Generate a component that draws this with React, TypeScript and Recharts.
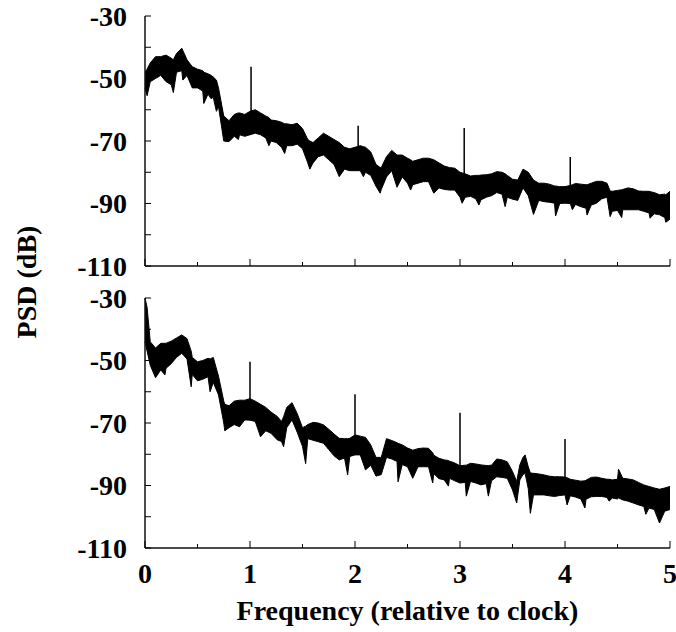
import React from 'react';
import { ComposedChart, Area, Line, XAxis, YAxis, Label } from 'recharts';

const FONT = '"Liberation Serif", "Times New Roman", serif';

// ---------- Top panel: noisy PSD band (upper / lower envelope) ----------
const topFreq = [
  0, 0.02, 0.05, 0.1, 0.15, 0.2, 0.25, 0.27, 0.3, 0.35,
  0.36, 0.4, 0.45, 0.5, 0.55, 0.56, 0.6, 0.63, 0.65, 0.68,
  0.7, 0.75, 0.8, 0.85, 0.89, 0.9, 0.95, 1.0, 1.05, 1.1,
  1.15, 1.18, 1.2, 1.25, 1.3, 1.33, 1.35, 1.4, 1.45, 1.5,
  1.55, 1.57, 1.6, 1.65, 1.7, 1.75, 1.8, 1.85, 1.9, 1.95,
  2.0, 2.05, 2.08, 2.1, 2.15, 2.2, 2.24, 2.25, 2.3, 2.35,
  2.4, 2.45, 2.5, 2.53, 2.55, 2.6, 2.65, 2.7, 2.75, 2.8,
  2.85, 2.9, 2.95, 3.0, 3.02, 3.05, 3.1, 3.15, 3.18, 3.2,
  3.25, 3.3, 3.35, 3.4, 3.43, 3.45, 3.5, 3.55, 3.6, 3.65,
  3.7, 3.75, 3.8, 3.85, 3.9, 3.91, 3.95, 4.0, 4.05, 4.07,
  4.1, 4.15, 4.2, 4.21, 4.25, 4.3, 4.35, 4.4, 4.43, 4.45,
  4.5, 4.54, 4.55, 4.6, 4.65, 4.7, 4.75, 4.8, 4.81, 4.85,
  4.9, 4.95, 4.96, 5.0,
];
const topHigh = [
  -48, -47, -45, -43, -43, -42.5, -43.5, -44, -42, -40.3,
  -41, -44, -46.2, -47, -47.5, -48, -48.5, -49, -49.5, -50.5,
  -53, -62, -63.5, -61.5, -61, -61, -61.5, -60.5, -60, -61,
  -62, -62.5, -63.3, -63.5, -64, -64.5, -64.5, -64.8, -64.3, -66,
  -69.5, -70, -70.5, -69, -67.5, -68.5, -69.5, -70.5, -72, -72.5,
  -72, -71.5, -71.8, -72, -73.5, -77.5, -78.5, -78.5, -75, -73,
  -74.5, -74.5, -75.5, -76, -76.5, -76, -75.5, -75.5, -76, -77,
  -78, -78.5, -78.7, -80, -80.2, -80.5, -81.2, -81, -81, -80.9,
  -80.8, -80.5, -79.8, -80, -80.5, -81, -82.2, -82.5, -79, -80,
  -82.5, -83.5, -83.5, -83.8, -84.4, -84.4, -84.6, -84.6, -84.2, -84,
  -83.6, -83.8, -84, -84, -83.5, -82.9, -82.9, -83.5, -86, -86.1,
  -85.8, -85.6, -85.5, -85, -85.3, -86, -86.1, -86.1, -86.2, -86.5,
  -87.2, -87, -87.2, -86.1,
];
const topLow = [
  -53, -55.5, -51, -50, -49, -51, -52, -54.5, -48, -47.5,
  -50.5, -49, -53, -53, -54, -58, -55, -56.5, -56, -60.5,
  -59, -70, -70.2, -68.5, -69.5, -68, -68.5, -68, -67.5, -68,
  -69, -71.5, -70, -70.5, -72, -74, -71.5, -71.5, -71, -72.5,
  -77, -79, -77, -75, -74.5, -76, -77.5, -81.4, -79, -79.5,
  -79.5, -79.5, -81.4, -80, -81, -84.5, -86.7, -85.5, -81.5, -79.5,
  -84.8, -81.5, -83.5, -85.7, -84, -83.5, -83, -83, -86.7, -85,
  -85.5, -85.7, -85.7, -88, -89.9, -88, -87.7, -88.5, -90.5, -88.8,
  -88, -87.5, -86.5, -87, -91, -88, -88.6, -89, -85, -87.5,
  -93.5, -89, -89.4, -89.6, -89.9, -94, -90, -89.9, -90, -92,
  -90.3, -91, -91.5, -93.7, -90.5, -89.9, -88.5, -88, -94.2, -92.5,
  -92.2, -94.5, -92, -92, -92, -92, -92.5, -93, -94.7, -93.3,
  -93.6, -94.5, -96, -95,
];
const topSpikeFreq = [1.01, 2.03, 3.04, 4.05];
const topSpikeTop = [-46.2, -65.1, -65.8, -75.1];
const topSpikeBase = [-62, -73, -82, -86];

// ---------- Bottom panel ----------
const botFreq = [
  0, 0.02, 0.05, 0.1, 0.15, 0.19, 0.2, 0.25, 0.3, 0.35,
  0.4, 0.44, 0.45, 0.5, 0.55, 0.6, 0.62, 0.65, 0.7, 0.75,
  0.76, 0.8, 0.85, 0.9, 0.95, 1.0, 1.05, 1.1, 1.15, 1.2,
  1.26, 1.3, 1.32, 1.35, 1.4, 1.45, 1.5, 1.53, 1.55, 1.6,
  1.65, 1.7, 1.75, 1.8, 1.85, 1.9, 1.93, 1.95, 2.0, 2.05,
  2.1, 2.15, 2.2, 2.25, 2.3, 2.35, 2.4, 2.41, 2.45, 2.5,
  2.55, 2.6, 2.65, 2.7, 2.74, 2.75, 2.8, 2.85, 2.89, 2.9,
  2.95, 3.0, 3.05, 3.06, 3.1, 3.15, 3.2, 3.25, 3.27, 3.3,
  3.35, 3.4, 3.45, 3.5, 3.54, 3.57, 3.6, 3.62, 3.65, 3.67,
  3.7, 3.75, 3.8, 3.85, 3.9, 3.95, 4.0, 4.02, 4.05, 4.1,
  4.15, 4.19, 4.2, 4.25, 4.3, 4.35, 4.4, 4.42, 4.45, 4.5,
  4.51, 4.55, 4.6, 4.65, 4.7, 4.75, 4.77, 4.8, 4.85, 4.9,
  4.95, 5.0,
];
const botHigh = [
  -30, -33, -44, -46, -44.5, -44.5, -44.5, -43.8, -42.8, -41.8,
  -43, -47, -49, -50.4, -50, -49.3, -49.5, -49, -55, -63,
  -64, -64.5, -63, -62.7, -62.7, -62.2, -63, -64, -65, -66.5,
  -67.9, -69.5, -68, -65, -63.5, -67, -71.5, -71, -70.5, -69.8,
  -70, -70.6, -72, -73.5, -74.9, -75, -75, -74.9, -73.8, -74.2,
  -74.6, -77, -81, -81, -75, -75.6, -76.3, -76.5, -77, -78,
  -78.7, -78.2, -78, -78.1, -79.5, -80.3, -81.3, -81.8, -82, -82.2,
  -82.8, -83.7, -83.5, -83.5, -82.9, -83.1, -83.4, -83.6, -83.6, -83.5,
  -81.5, -81.8, -82.4, -85.5, -88.7, -83.4, -81, -80.2, -84, -86,
  -86.1, -86.3, -86.6, -87, -87.2, -87.2, -87.3, -87.5, -88, -88.3,
  -88.6, -88.5, -88.3, -87.4, -87.3, -87.7, -88, -88, -88.2, -88,
  -84.8, -87.7, -87.9, -88.2, -89, -89.8, -90, -90.3, -90.8, -91.2,
  -90.8, -90.3,
];
const botLow = [
  -44, -47, -51.5, -55.5, -53, -54.6, -52.5, -51, -49, -47.7,
  -49.5, -58.4, -54.5, -56.5, -56, -55.2, -60, -57, -61, -70,
  -72.5, -71.5, -70.5, -71.2, -69, -69.1, -69.5, -74.4, -72.5, -73.3,
  -75.4, -75.9, -77.6, -71.5, -69, -73, -77.5, -83, -75, -75.5,
  -76, -76.5, -78.5, -80.5, -81.8, -81.2, -86.6, -80.7, -80.2, -80.2,
  -85, -83.5, -87, -86.5, -81, -81.5, -82.3, -88.8, -83.3, -84,
  -87.7, -84, -84, -84, -89.2, -86.2, -87.8, -88.2, -90.2, -87.7,
  -88.5, -89.2, -89, -93.4, -88.7, -89.2, -89.8, -89.4, -93.4, -88.5,
  -87.2, -87.4, -87.7, -91.4, -95.6, -88.2, -86.5, -86.1, -91, -98.9,
  -93, -93, -93, -93.3, -93.5, -93.2, -93, -96.2, -93.3, -93.7,
  -94.3, -97.2, -94.4, -93.6, -93.5, -93.5, -93.8, -95, -94, -94.3,
  -94, -94.6, -95, -95.6, -96.2, -96.7, -99.2, -97.2, -97.7, -102,
  -98.2, -97.7,
];
const botSpikeFreq = [1.0, 2.0, 3.0, 4.0];
const botSpikeTop = [-50.4, -60.8, -66.7, -75.1];
const botSpikeBase = [-64, -76, -85, -89];

// ---------- Axes ----------
const xTicks = [0, 0.5, 1, 1.5, 2, 2.5, 3, 3.5, 4, 4.5, 5];
const xLabelTicks = [0, 1, 2, 3, 4, 5];
const yTicks = [-110, -100, -90, -80, -70, -60, -50, -40, -30];
const yLabelTicks = [-110, -90, -70, -50, -30];
const xTitle = 'Frequency (relative to clock)';
const yTitle = 'PSD (dB)';

const band = (f: number[], hi: number[], lo: number[]) =>
  f.map((v, i) => ({ f: v, range: [lo[i], hi[i]] }));
const spikes = (f: number[], top: number[], base: number[]) => {
  const out: any[] = [];
  f.forEach((v, i) => {
    out.push({ f: v, v: base[i] });
    out.push({ f: v, v: top[i] });
    out.push({ f: v, v: null });
  });
  return out;
};

const txt = { fontFamily: FONT, fontWeight: 700, fontSize: 28, fill: '#000' } as const;

const BottomTick = (showLabels: boolean) => (props: any) => {
  const { x, y, payload } = props;
  const v = payload.value;
  const major = xLabelTicks.includes(v);
  const len = major ? 7 : 4;
  return (
    <g>
      <line x1={x} x2={x} y1={y} y2={y - len} stroke="#000" strokeWidth={1} />
      {showLabels && major && (
        <text x={x} y={y + 35} textAnchor="middle" {...txt}>{v}</text>
      )}
    </g>
  );
};
const TopTick = (props: any) => {
  const { x, y, payload } = props;
  const major = xLabelTicks.includes(payload.value);
  const len = major ? 7 : 4;
  return <line x1={x} x2={x} y1={y} y2={y + len} stroke="#000" strokeWidth={1} />;
};
const LeftTick = (props: any) => {
  const { x, y, payload } = props;
  const v = payload.value;
  return (
    <g>
      <line x1={x} x2={x + 6} y1={y} y2={y} stroke="#000" strokeWidth={1} />
      {yLabelTicks.includes(v) && (
        <text x={x - 18} y={y + 9.5} textAnchor="end" {...txt}>{v}</text>
      )}
    </g>
  );
};
const RightTick = (props: any) => {
  const { x, y } = props;
  return <line x1={x} x2={x - 6} y1={y} y2={y} stroke="#000" strokeWidth={1} />;
};

const axisLine = { stroke: '#111', strokeWidth: 1.5 };

function Panel({ data, spikeData, height, bottomH, showX }: any) {
  return (
    <ComposedChart
      width={676}
      height={height}
      data={data}
      margin={{ top: 16, right: 6, bottom: 0, left: 0 }}
    >
      <XAxis
        dataKey="f"
        type="number"
        domain={[0, 5]}
        ticks={xTicks}
        interval={0}
        height={bottomH}
        tickSize={0}
        tickMargin={0}
        tickLine={false}
        axisLine={axisLine}
        tick={BottomTick(showX)}
      >
        {showX && (
          <Label
            content={(p: any) => {
              const vb = p.viewBox;
              return (
                <text x={vb.x + vb.width / 2} y={vb.y + 72} textAnchor="middle" {...txt}>
                  {xTitle}
                </text>
              );
            }}
          />
        )}
      </XAxis>
      <XAxis
        xAxisId="top"
        orientation="top"
        dataKey="f"
        type="number"
        domain={[0, 5]}
        ticks={xTicks}
        interval={0}
        height={0}
        tickSize={0}
        tickMargin={0}
        tickLine={false}
        axisLine={axisLine}
        tick={TopTick}
      />
      <YAxis
        type="number"
        domain={[-110, -30]}
        allowDataOverflow
        ticks={yTicks}
        interval={0}
        width={145}
        tickSize={0}
        tickMargin={0}
        tickLine={false}
        axisLine={axisLine}
        tick={LeftTick}
      />
      <YAxis
        yAxisId="right"
        orientation="right"
        type="number"
        domain={[-110, -30]}
        ticks={yTicks}
        interval={0}
        width={0}
        tickSize={0}
        tickMargin={0}
        tickLine={false}
        axisLine={axisLine}
        tick={RightTick}
      />
      <Area
        type="linear"
        dataKey="range"
        stroke="#000"
        strokeWidth={1}
        fill="#000"
        fillOpacity={1}
        dot={false}
        activeDot={false}
        isAnimationActive={false}
      />
      <Line
        data={spikeData}
        dataKey="v"
        type="linear"
        stroke="#000"
        strokeWidth={1.5}
        dot={false}
        activeDot={false}
        connectNulls={false}
        isAnimationActive={false}
      />
    </ComposedChart>
  );
}

export default function App() {
  const topData = band(topFreq, topHigh, topLow);
  const botData = band(botFreq, botHigh, botLow);
  return (
    <div style={{ position: 'absolute', left: 0, top: 0, width: 676, height: 632, background: '#fff' }}>
      <div style={{ position: 'absolute', left: 0, top: 282 }}>
        <Panel
          data={botData}
          spikeData={spikes(botSpikeFreq, botSpikeTop, botSpikeBase)}
          height={350}
          bottomH={84}
          showX={true}
        />
      </div>
      <div style={{ position: 'absolute', left: 0, top: 0 }}>
        <Panel
          data={topData}
          spikeData={spikes(topSpikeFreq, topSpikeTop, topSpikeBase)}
          height={282}
          bottomH={16}
          showX={false}
        />
      </div>
      <svg
        width={676}
        height={632}
        style={{ position: 'absolute', left: 0, top: 0, pointerEvents: 'none' }}
      >
        <text x={36} y={282} textAnchor="middle" transform="rotate(-90 36 282)" {...txt}>
          {yTitle}
        </text>
      </svg>
    </div>
  );
}
